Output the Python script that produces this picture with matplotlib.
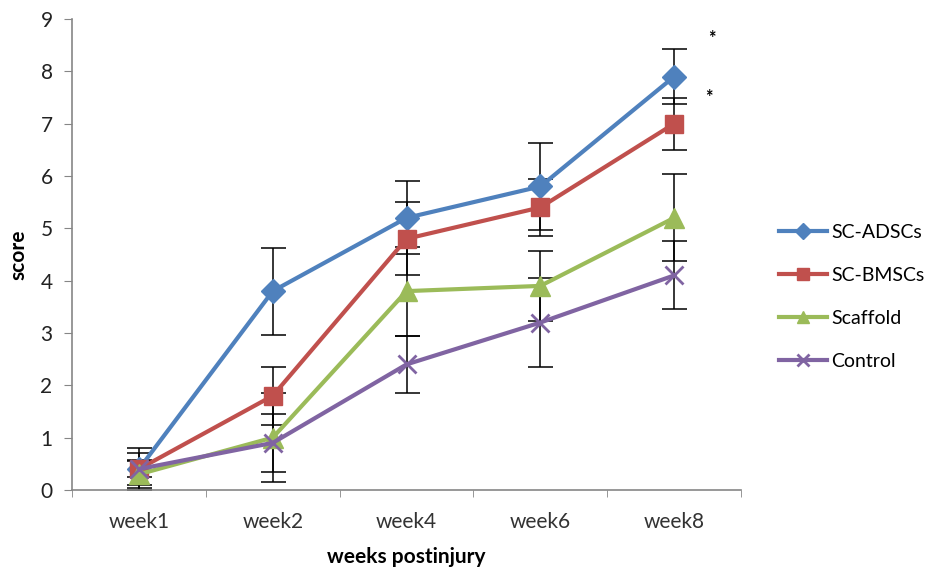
import numpy as np
import matplotlib
matplotlib.use("Agg")
import matplotlib.pyplot as plt

plt.rcParams['font.family'] = ['Lato', 'DejaVu Sans']

weeks = ['week1', 'week2', 'week4', 'week6', 'week8']

adscs = [0.4, 3.8, 5.2, 5.8, 7.9]
adscs_err = [0.4, 0.83, 0.7, 0.83, 0.53]
bmscs = [0.4, 1.8, 4.8, 5.4, 7.0]
bmscs_err = [0.3, 0.55, 0.7, 0.55, 0.5]
scaffold = [0.3, 1.0, 3.8, 3.9, 5.2]
scaffold_err = [0.27, 0.85, 0.85, 0.67, 0.83]
control = [0.4, 0.9, 2.4, 3.2, 4.1]
control_err = [0.15, 0.55, 0.55, 0.85, 0.65]

stars = [(4.28, 8.62), (4.26, 7.5)]

series = [
    ('SC-ADSCs', adscs, adscs_err, '#4F81BD', 'D', 12),
    ('SC-BMSCs', bmscs, bmscs_err, '#C0504D', 's', 13),
    ('Scaffold', scaffold, scaffold_err, '#9BBB59', '^', 14),
    ('Control', control, control_err, '#8064A2', 'x', 13),
]

fig = plt.figure(figsize=(9.26, 5.71), dpi=100)
ax = fig.add_axes([0.0778, 0.1419, 0.7225, 0.8248])

x = np.arange(len(weeks))
for name, vals, err, col, mk, ms in series:
    ax.errorbar(x, vals, yerr=err, fmt='none', ecolor='black', elinewidth=1.1,
                capsize=9, capthick=1.1, zorder=2)
for name, vals, err, col, mk, ms in series:
    ax.plot(x, vals, color=col, lw=3, marker=mk, markersize=ms,
            markeredgewidth=2 if mk == 'x' else 1, markeredgecolor=col,
            label=name, zorder=3)

for sx, sy in stars:
    ax.text(sx, sy, '*', fontsize=13, ha='center', va='center', fontweight='bold')

ax.set_xlim(-0.5, 4.5)
ax.set_ylim(0, 9)
ax.set_yticks(range(10))
ax.set_xticks(x)
ax.set_xticklabels(weeks)
ax.set_xticks(np.arange(-0.5, 5, 1), minor=True)
ax.tick_params(axis='x', which='major', length=0, pad=16, labelsize=15, colors='#333333')
ax.tick_params(axis='x', which='minor', length=5, direction='out', color='#868686')
ax.tick_params(axis='y', length=6, direction='out', color='#868686', pad=8,
               labelsize=15, labelcolor='#222222')

for s in ['top', 'right']:
    ax.spines[s].set_visible(False)
for s in ['left', 'bottom']:
    ax.spines[s].set_color('#868686')
    ax.spines[s].set_linewidth(1.2)

ax.set_xlabel('weeks postinjury', fontsize=15, fontweight='bold', labelpad=11)
ax.set_ylabel('score', fontsize=15, fontweight='bold', labelpad=9)

ax.legend(loc='center left', bbox_to_anchor=(1.03, 0.41), frameon=False,
          fontsize=14, markerscale=0.65, handlelength=2.5, labelspacing=1.35,
          handletextpad=0.2)

fig.savefig('out.png', dpi=100)
